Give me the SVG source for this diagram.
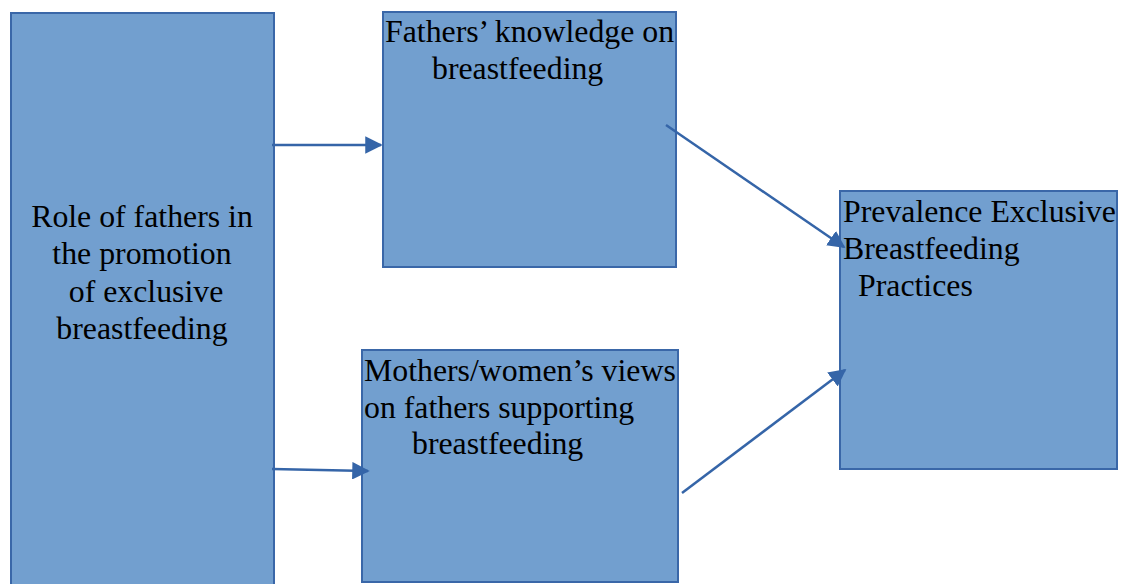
<svg xmlns="http://www.w3.org/2000/svg" width="1126" height="584" viewBox="0 0 1126 584">
<defs>
<style>
.box{fill:#729fcf;stroke:#3a67a8;stroke-width:2}
.t{font-family:"Liberation Serif","Times New Roman",serif;font-size:31.8px;fill:#000}
.c{stroke:#3565a8;stroke-width:2.5;fill:none;marker-end:url(#ah)}
</style>
<marker id="ah" viewBox="0 0 10 10" refX="9" refY="5" markerWidth="7" markerHeight="7" orient="auto" markerUnits="strokeWidth">
<path d="M0,0 L10,5 L0,10 z" fill="#3565a8"/>
</marker>
</defs>
<rect width="1126" height="584" fill="#fff"/>
<g id="node-role">
<rect class="box" x="11" y="13" width="263" height="580"/>
<text class="t" text-anchor="middle" x="142" y="227">Role of fathers in</text>
<text class="t" text-anchor="middle" x="142" y="264">the promotion</text>
<text class="t" text-anchor="middle" x="146" y="302">of exclusive</text>
<text class="t" text-anchor="middle" x="142" y="339">breastfeeding</text>
</g>
<g id="node-knowledge">
<rect class="box" x="383" y="12" width="293" height="255"/>
<text class="t" x="385" y="42">Fathers’ knowledge on</text>
<text class="t" x="432" y="79">breastfeeding</text>
</g>
<g id="node-views">
<rect class="box" x="362" y="350" width="316" height="232"/>
<text class="t" x="364" y="381">Mothers/women’s views</text>
<text class="t" x="364" y="418">on fathers supporting</text>
<text class="t" x="412" y="454">breastfeeding</text>
</g>
<g id="node-prevalence">
<rect class="box" x="840" y="191" width="277" height="278"/>
<text class="t" x="843" y="222">Prevalence Exclusive</text>
<text class="t" x="843" y="259">Breastfeeding</text>
<text class="t" x="858" y="296">Practices</text>
</g>
<g id="connectors">
<line class="c" x1="272" y1="145" x2="381" y2="145"/>
<line class="c" x1="272" y1="469" x2="368" y2="471"/>
<line class="c" x1="666" y1="125" x2="844" y2="247"/>
<line class="c" x1="682" y1="493" x2="845" y2="370"/>
</g>
</svg>
